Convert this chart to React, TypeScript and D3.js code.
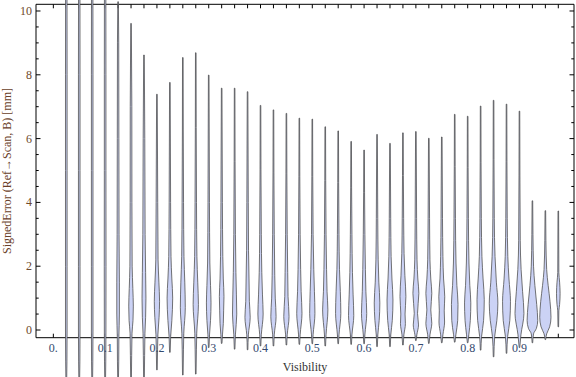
import React from "react";
import * as d3 from "d3";

// Visibility bins (category centres)
const visibility = [
  0.025, 0.05, 0.075, 0.1, 0.125, 0.15, 0.175, 0.2, 0.225, 0.25,
  0.275, 0.3, 0.325, 0.35, 0.375, 0.4, 0.425, 0.45, 0.475, 0.5,
  0.525, 0.55, 0.575, 0.6, 0.625, 0.65, 0.675, 0.7, 0.725, 0.75,
  0.775, 0.8, 0.825, 0.85, 0.875, 0.9, 0.925, 0.95, 0.975,
];

// Minimum signed error per bin [mm]
const minErr = [
  -1.8, -1.8, -1.8, -1.8, -1.7, -1.7, -1.7, -1.25, -0.7, -1.41,
  -1.38, -0.55, -0.42, -0.6, -0.62, -0.5, -0.5, -0.47, -0.45, -0.43,
  -0.5, -0.43, -0.45, -0.43, -0.52, -0.52, -0.47, -0.33, -0.42, -0.4,
  -0.38, -0.4, -0.63, -0.84, -0.73, -0.55, -0.4, -0.3, 0.1,
];

// Maximum signed error per bin [mm]
const maxErr = [
  12.0, 12.0, 12.0, 12.0, 10.29, 9.61, 8.62, 7.39, 7.76, 8.54,
  8.69, 7.99, 7.58, 7.58, 7.47, 7.04, 6.9, 6.79, 6.64, 6.61,
  6.37, 6.24, 5.91, 5.64, 6.13, 5.85, 6.18, 6.22, 6.01, 6.05,
  6.76, 6.7, 7.02, 7.2, 7.08, 6.86, 4.05, 3.74, 3.73,
];

// Density profile knots per bin: [signed error, relative density]
const shapes: [number, number][][] = [
  [[-1.0, 2], [0, 3], [2, 3], [5, 3], [8, 3], [10.5, 2.5]],
  [[-1.0, 2], [0, 3], [2, 3], [5, 3], [8, 3], [10.5, 2.5]],
  [[-1.0, 2], [0, 3], [2, 3], [5, 3], [8, 3], [10.5, 2.5]],
  [[-1.0, 2], [0, 3], [2, 3.5], [5, 3], [8, 3], [10.5, 2.5]],
  [[-1.0, 2], [-0.2, 3], [0.5, 6], [1.5, 6], [3, 4], [6, 3], [9, 2]],
  [[-0.8, 2], [-0.1, 4], [0.3, 10], [0.75, 12], [1.3, 9], [2, 5], [4, 3.5], [7, 3]],
  [[-0.8, 2], [-0.1, 4], [0.4, 8], [1.0, 10], [1.8, 8], [3, 5], [6, 3]],
  [[-0.6, 2], [-0.15, 4], [0.4, 11], [0.9, 14], [1.5, 10], [2.2, 5], [4, 3]],
  [[-0.2, 3], [0.3, 10], [1.0, 15], [1.6, 10], [2.3, 5], [4, 2.5]],
  [[-0.6, 2], [-0.1, 4], [0.7, 13], [1.5, 10], [2.3, 5], [4, 2.5]],
  [[-0.6, 2], [-0.1, 4], [0.8, 14], [1.5, 10], [2.3, 5], [4, 2.5]],
  [[-0.15, 3], [0.3, 9], [0.85, 12], [1.4, 9], [2.1, 5], [4, 2.5]],
  [[-0.15, 3], [0.2, 8], [0.6, 10], [1.05, 12], [1.6, 8], [2.3, 5], [4, 2.5]],
  [[-0.15, 3], [0.5, 11], [1.1, 9], [1.8, 6], [3, 3]],
  [[-0.15, 3], [0.4, 14], [0.9, 9], [1.6, 7], [2.5, 4], [4, 2.5]],
  [[-0.15, 3], [0.5, 14], [1.1, 10], [1.8, 6], [3, 3]],
  [[-0.15, 3], [0.42, 14], [1.0, 9], [1.7, 6], [3, 3]],
  [[-0.15, 3], [0.42, 14], [1.05, 8], [1.8, 6], [3, 3]],
  [[-0.15, 3], [0.52, 14], [1.2, 9], [1.9, 6], [3, 3]],
  [[-0.15, 3], [0.52, 14], [1.2, 11], [1.9, 7], [3, 3]],
  [[-0.15, 3], [0.63, 14], [1.2, 9], [1.9, 6], [3, 3]],
  [[-0.15, 3], [0.52, 14], [1.2, 11], [1.9, 6], [3, 3]],
  [[-0.15, 3], [0.45, 14], [1.1, 10], [1.8, 6], [3, 3]],
  [[-0.15, 3], [0.52, 14], [1.2, 9], [1.9, 6], [3, 3]],
  [[-0.15, 3], [0.3, 11], [0.85, 15], [1.5, 9], [2.2, 5], [3.5, 2.5]],
  [[-0.15, 3], [0.3, 12], [0.94, 16], [1.6, 10], [2.3, 5], [3.5, 2.5]],
  [[-0.15, 4], [0.2, 13], [0.5, 11], [1.05, 16], [1.7, 10], [2.4, 5], [3.5, 2.5]],
  [[-0.15, 4], [0.16, 14], [0.52, 8], [1.15, 16], [1.6, 10], [2.2, 5], [3.5, 2.5]],
  [[-0.15, 5], [0.21, 16], [0.63, 10], [1.15, 16], [1.6, 10], [2.2, 5], [3.5, 2.5]],
  [[-0.15, 5], [0.25, 15], [0.6, 13], [1.04, 16], [1.6, 9], [2.3, 5], [3.5, 2.5]],
  [[-0.15, 5], [0.3, 16], [0.8, 18], [1.4, 11], [2.1, 6], [3.5, 2.5]],
  [[-0.15, 5], [0.3, 14], [0.85, 17], [1.4, 11], [2.1, 6], [3.5, 2.5]],
  [[-0.2, 4], [0.3, 16], [0.95, 20], [1.6, 13], [2.3, 6], [3.5, 2.5]],
  [[-0.2, 5], [0.3, 18], [0.84, 24], [1.5, 15], [2.3, 7], [3.5, 2.5]],
  [[-0.2, 5], [0.3, 18], [0.9, 22], [1.6, 13], [2.3, 6], [3.5, 2.5]],
  [[-0.15, 7], [0.52, 25], [1.2, 17], [1.9, 8], [2.8, 3]],
  [[-0.12, 5], [0.05, 22], [0.3, 30], [0.8, 24], [1.4, 13], [2.0, 5], [3, 1.5]],
  [[-0.12, 6], [0.1, 24], [0.4, 32], [0.9, 26], [1.4, 15], [1.9, 6], [2.8, 1.5]],
  [[0.6, 1.5], [0.8, 6], [1.15, 9], [1.5, 6], [1.8, 1.5]],
];

const xTickLabels: [number, string][] = [
  [0, "0."], [0.1, "0.1"], [0.2, "0.2"], [0.3, "0.3"], [0.4, "0.4"],
  [0.5, "0.5"], [0.6, "0.6"], [0.7, "0.7"], [0.8, "0.8"], [0.9, "0.9"],
];
const yMajor = [0, 2, 4, 6, 8, 10];
const yLabels = ["0", "2", "4", "6", "8", "10"];

const W = 576;
const H = 377;
const L = 36, R = 574, T = 4.3, B = 337.7;

export default function App() {
  const x = d3.scaleLinear().domain([-0.0335, 1.0053]).range([L, R]);
  const y = d3.scaleLinear().domain([-0.241, 10.21]).range([B, T]);
  const w = d3.scaleLinear().domain([0, 6]).range([0, 1]);

  const xTicks = d3.range(0, 0.976, 0.025);
  const yMinor = d3.range(0, 10.01, 0.5).filter((v) => Math.abs(v % 2) > 0.01 && Math.abs((v % 2) - 2) > 0.01);

  const font = "'Liberation Serif', 'Times New Roman', serif";

  const violins = visibility.map((v, i) => {
    const pts: [number, number][] = [[minErr[i], 0], ...shapes[i], [maxErr[i], 0]];
    const cx = x(v);
    const area = d3
      .area<[number, number]>()
      .y((d) => y(d[0]))
      .x0((d) => cx - w(d[1]) - 0.3)
      .x1((d) => cx + w(d[1]) + 0.3)
      .curve(d3.curveMonotoneY);
    return (
      <path
        key={i}
        d={area(pts) || ""}
        fill="#cbd2f5"
        stroke="#4a4a4a"
        strokeOpacity={0.85}
        strokeWidth={0.9}
      />
    );
  });

  return (
    <svg
      width={W}
      height={H}
      style={{ position: "absolute", left: 0, top: 0, background: "#fff" }}
    >
      <rect x={0} y={0} width={W} height={H} fill="#fff" />
      {/* frame */}
      <g stroke="#000" strokeWidth={1} fill="none">
        <line x1={L} x2={R} y1={B} y2={B} />
        <line x1={L} x2={R} y1={T} y2={T} />
        <line x1={L} x2={L} y1={T} y2={B} />
        <line x1={R} x2={R} y1={T} y2={B} />
        {xTicks.map((t, i) => (
          <g key={"xt" + i}>
            <line x1={x(t)} x2={x(t)} y1={B} y2={B - 4} />
            <line x1={x(t)} x2={x(t)} y1={T} y2={T + 4} />
          </g>
        ))}
        {yMajor.map((t, i) => (
          <g key={"ym" + i}>
            <line x1={L} x2={L + 4.5} y1={y(t)} y2={y(t)} />
            <line x1={R} x2={R - 4.5} y1={y(t)} y2={y(t)} />
          </g>
        ))}
        {yMinor.map((t, i) => (
          <g key={"yn" + i}>
            <line x1={L} x2={L + 2.7} y1={y(t)} y2={y(t)} />
            <line x1={R} x2={R - 2.7} y1={y(t)} y2={y(t)} />
          </g>
        ))}
      </g>
      {violins}
      {/* tick labels */}
      <g fontFamily={font} fontSize={12}>
        {yMajor.map((t, i) => (
          <text key={"yl" + i} x={32} y={y(t) + 4} textAnchor="end" fill="#6e4a2c">
            {yLabels[i]}
          </text>
        ))}
        {xTickLabels.map(([v, s], i) => (
          <text key={"xl" + i} x={x(v)} y={352} textAnchor="middle" fill="#34496e">
            {s}
          </text>
        ))}
        <text x={(L + R) / 2} y={371} textAnchor="middle" fill="#333">
          Visibility
        </text>
        <text
          transform={`translate(11, ${(T + B) / 2}) rotate(-90)`}
          textAnchor="middle"
          fill="#6a4028"
        >
          SignedError (Ref→Scan, B) [mm]
        </text>
      </g>
    </svg>
  );
}
